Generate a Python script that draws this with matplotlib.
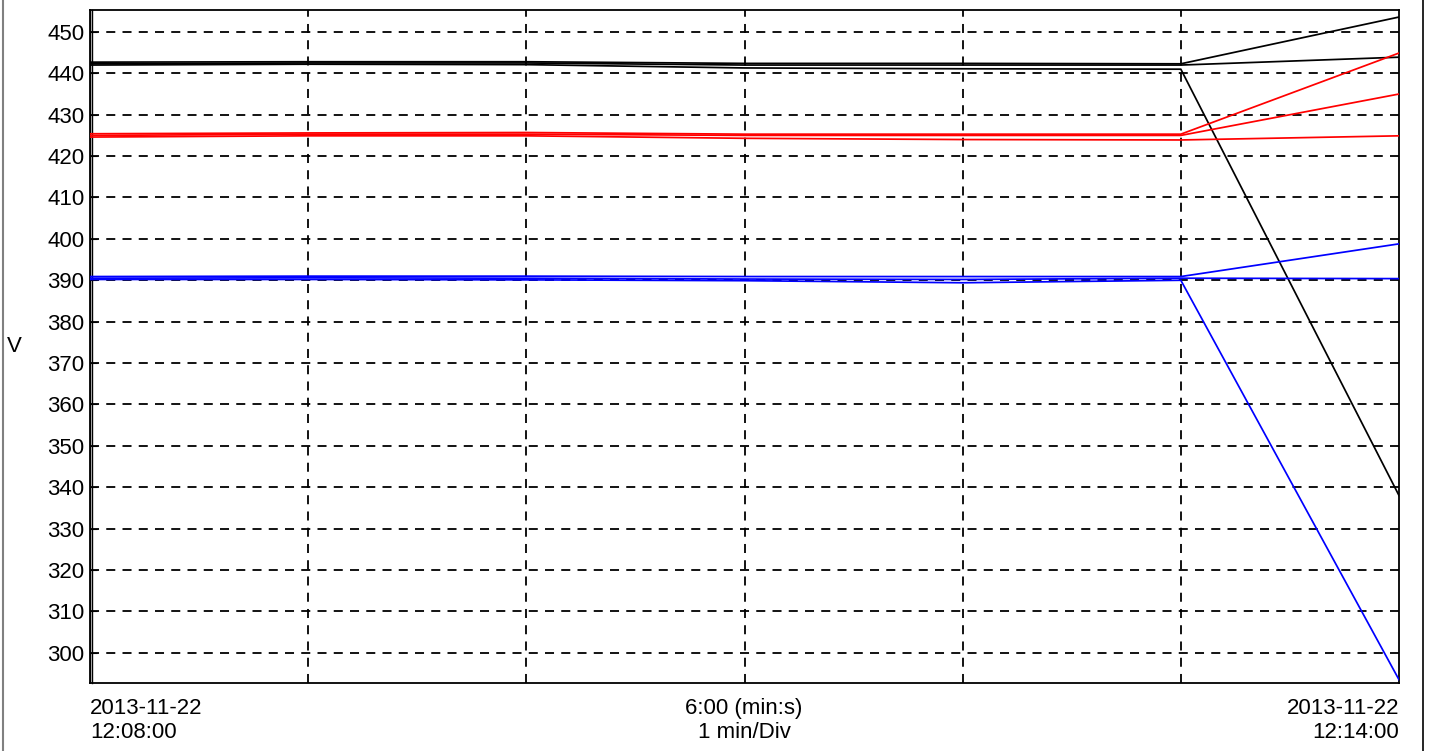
import matplotlib
matplotlib.use("Agg")
import matplotlib.pyplot as plt
from matplotlib.lines import Line2D
import numpy as np

plt.rcParams['font.family'] = ['Liberation Sans', 'DejaVu Sans']

# minutes after 12:08:00
minutes = [0, 1, 2, 3, 4, 5, 6]

black_a = [442.7, 442.8, 442.8, 442.4, 442.4, 442.3, 453.6]
black_b = [442.3, 442.5, 442.5, 442.0, 442.0, 442.0, 443.9]
black_c = [442.0, 442.2, 442.1, 441.3, 441.1, 441.0, 338.0]

red_a = [425.4, 425.6, 425.7, 425.3, 425.3, 425.3, 444.9]
red_b = [425.0, 425.3, 425.3, 425.0, 425.0, 425.0, 435.0]
red_c = [424.6, 424.9, 424.9, 424.3, 424.0, 423.9, 424.9]

blue_a = [390.9, 391.0, 391.0, 390.9, 390.9, 390.9, 398.8]
blue_b = [390.5, 390.6, 390.5, 390.3, 390.2, 390.5, 390.4]
blue_c = [390.2, 390.2, 390.1, 389.9, 389.4, 390.0, 293.5]

y_ticks = [300, 310, 320, 330, 340, 350, 360, 370, 380, 390, 400, 410, 420, 430, 440, 450]
left_label = "2013-11-22\n12:08:00"
mid_label = "6:00 (min:s)\n1 min/Div"
right_label = "2013-11-22\n12:14:00"

FS = 16

fig = plt.figure(figsize=(14.29, 7.51), dpi=100)
ax = fig.add_axes([90/1429, 1 - 683/751, (1399 - 90)/1429, (683 - 10)/751])

for s, c in [(black_a, 'black'), (black_b, 'black'), (black_c, 'black'),
             (red_a, '#ff0000'), (red_b, '#ff0000'), (red_c, '#ff0000'),
             (blue_a, '#0000ff'), (blue_b, '#0000ff'), (blue_c, '#0000ff')]:
    ax.plot(minutes, s, color=c, lw=1.25, zorder=3)

ax.set_xlim(0, 6)
ax.set_ylim(292.7, 455.3)
ax.set_yticks(y_ticks)
ax.set_xticks(minutes[1:-1])
ax.set_xticklabels([])
ax.grid(True, which='major', color='black', linestyle=(0, (5, 4)), lw=1.3, zorder=1)
ax.tick_params(axis='y', direction='in', length=5, labelsize=FS, pad=4, color='black')
ax.tick_params(axis='x', length=0)
for sp in ax.spines.values():
    sp.set_linewidth(1.3)
ax.set_ylabel("V", fontsize=FS, rotation=0, labelpad=0, va='center', ha='center')
ax.yaxis.set_label_coords(-0.058, 0.50)

# double line at left edge
ax.axvline(0.0, color='black', lw=1.0, zorder=2)
ax.plot([0.009, 0.009], [292.7, 455.3], color='black', lw=1.0, zorder=2, clip_on=False)

fig.text(90/1429, 1 - 698/751, left_label, ha='left', va='top', fontsize=FS, linespacing=1.2)
fig.text(744/1429, 1 - 698/751, mid_label, ha='center', va='top', fontsize=FS, linespacing=1.2)
fig.text(1399/1429, 1 - 698/751, right_label, ha='right', va='top', fontsize=FS, linespacing=1.2,
         multialignment='right')

# figure frame lines
fig.add_artist(Line2D([2.5/1429, 2.5/1429], [0, 1], color='#808080', lw=1.5, transform=fig.transFigure))
fig.add_artist(Line2D([1422.5/1429, 1422.5/1429], [0, 1], color='black', lw=1.2, transform=fig.transFigure))

fig.savefig("out.png", dpi=100)
